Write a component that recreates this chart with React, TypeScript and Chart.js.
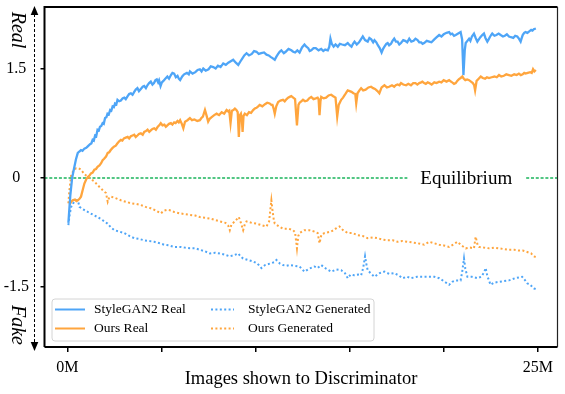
import { useEffect, useRef } from "react";
import { Chart, registerables } from "chart.js";

Chart.register(...registerables);

// ---- Data (x in millions of images, y = discriminator output) ----
const sgRealX = [0.05, 0.15, 0.25, 0.37, 0.45, 0.55, 0.63, 0.72, 0.8, 0.9, 1.0, 1.08, 1.2, 1.27, 1.34, 1.4, 1.47, 1.53, 1.6, 1.67, 1.73, 1.8, 1.87, 1.93, 2.0, 2.07, 2.13, 2.2, 2.27, 2.33, 2.4, 2.47, 2.53, 2.6, 2.66, 2.75, 2.84, 2.93, 3.02, 3.1, 3.2, 3.28, 3.37, 3.46, 3.55, 3.63, 3.72, 3.8, 3.9, 4.0, 4.08, 4.17, 4.25, 4.34, 4.43, 4.52, 4.6, 4.68, 4.75, 4.82, 4.87, 4.95, 5.02, 5.1, 5.2, 5.31, 5.4, 5.5, 5.58, 5.67, 5.76, 5.85, 5.92, 5.99, 6.1, 6.2, 6.35, 6.45, 6.51, 6.65, 6.8, 6.92, 7.04, 7.13, 7.22, 7.35, 7.5, 7.62, 7.75, 7.88, 8.0, 8.14, 8.28, 8.42, 8.55, 8.68, 8.81, 8.95, 9.08, 9.2, 9.3, 9.4, 9.52, 9.65, 9.8, 9.92, 10.05, 10.17, 10.3, 10.45, 10.58, 10.7, 10.8, 10.92, 11.02, 11.1, 11.2, 11.28, 11.37, 11.5, 11.6, 11.75, 11.9, 12.0, 12.1, 12.22, 12.34, 12.47, 12.6, 12.7, 12.8, 12.88, 12.96, 13.08, 13.2, 13.35, 13.49, 13.6, 13.7, 13.84, 13.92, 13.98, 14.05, 14.15, 14.25, 14.37, 14.48, 14.6, 14.75, 14.9, 15.0, 15.1, 15.18, 15.26, 15.38, 15.5, 15.6, 15.7, 15.82, 15.96, 16.05, 16.15, 16.25, 16.32, 16.42, 16.5, 16.6, 16.7, 16.78, 16.85, 16.95, 17.02, 17.1, 17.2, 17.28, 17.37, 17.46, 17.55, 17.64, 17.73, 17.85, 17.95, 18.06, 18.17, 18.28, 18.4, 18.5, 18.61, 18.7, 18.8, 18.88, 18.96, 19.1, 19.23, 19.35, 19.5, 19.63, 19.76, 19.88, 20.0, 20.15, 20.29, 20.37, 20.45, 20.55, 20.64, 20.77, 20.9, 20.98, 21.05, 21.12, 21.17, 21.26, 21.35, 21.42, 21.5, 21.61, 21.7, 21.79, 21.87, 21.95, 22.05, 22.14, 22.22, 22.32, 22.39, 22.45, 22.52, 22.58, 22.7, 22.8, 22.92, 23.03, 23.15, 23.25, 23.36, 23.47, 23.58, 23.7, 23.8, 23.91, 24.0, 24.09, 24.15, 24.2, 24.28, 24.35, 24.45, 24.55, 24.65, 24.72, 24.79, 24.9];
const sgRealY = [-0.62, -0.25, 0.0, 0.15, 0.25, 0.34, 0.36, 0.38, 0.37, 0.4, 0.41, 0.43, 0.46, 0.47, 0.52, 0.51, 0.58, 0.57, 0.66, 0.65, 0.7, 0.71, 0.75, 0.74, 0.82, 0.83, 0.88, 0.87, 0.93, 0.92, 0.98, 0.97, 1.02, 1.01, 1.07, 1.05, 1.06, 1.09, 1.1, 1.08, 1.12, 1.15, 1.16, 1.14, 1.18, 1.21, 1.23, 1.19, 1.22, 1.25, 1.26, 1.23, 1.27, 1.3, 1.32, 1.28, 1.3, 1.34, 1.35, 1.31, 1.34, 1.26, 1.31, 1.33, 1.36, 1.39, 1.36, 1.41, 1.44, 1.43, 1.38, 1.4, 1.36, 1.34, 1.39, 1.42, 1.44, 1.42, 1.46, 1.43, 1.45, 1.48, 1.49, 1.46, 1.5, 1.47, 1.49, 1.53, 1.52, 1.5, 1.54, 1.52, 1.57, 1.55, 1.58, 1.6, 1.62, 1.58, 1.55, 1.6, 1.64, 1.68, 1.71, 1.68, 1.7, 1.74, 1.73, 1.7, 1.71, 1.72, 1.69, 1.68, 1.66, 1.64, 1.62, 1.66, 1.7, 1.73, 1.75, 1.71, 1.73, 1.77, 1.75, 1.73, 1.72, 1.75, 1.72, 1.79, 1.83, 1.8, 1.78, 1.74, 1.75, 1.78, 1.78, 1.75, 1.77, 1.74, 1.76, 1.75, 1.8, 1.91, 1.84, 1.8, 1.83, 1.8, 1.84, 1.83, 1.82, 1.85, 1.82, 1.8, 1.84, 1.87, 1.83, 1.86, 1.9, 1.94, 1.89, 1.87, 1.92, 1.9, 1.86, 1.89, 1.86, 1.82, 1.78, 1.72, 1.77, 1.8, 1.84, 1.85, 1.82, 1.84, 1.88, 1.91, 1.87, 1.87, 1.83, 1.85, 1.89, 1.88, 1.86, 1.91, 1.87, 1.88, 1.91, 1.89, 1.86, 1.86, 1.84, 1.85, 1.88, 1.87, 1.86, 1.9, 1.93, 1.96, 1.94, 1.97, 1.99, 2.0, 1.97, 1.98, 1.95, 1.96, 1.98, 2.0, 1.9, 1.41, 1.75, 1.85, 1.88, 1.91, 1.88, 1.94, 1.98, 1.92, 1.87, 1.9, 1.93, 1.96, 1.98, 1.92, 1.87, 1.9, 1.93, 1.96, 1.98, 1.95, 1.96, 1.98, 1.96, 1.94, 1.95, 1.97, 1.94, 1.93, 1.92, 1.95, 1.94, 1.91, 1.87, 1.92, 1.96, 1.99, 2.0, 1.99, 2.01, 2.03, 2.02, 2.04, 2.05];

const oursRealX = [0.11, 0.2, 0.28, 0.4, 0.48, 0.55, 0.64, 0.72, 0.8, 0.9, 1.0, 1.08, 1.17, 1.25, 1.34, 1.43, 1.52, 1.6, 1.7, 1.79, 1.87, 1.95, 2.05, 2.14, 2.22, 2.3, 2.4, 2.49, 2.57, 2.65, 2.75, 2.84, 2.92, 3.0, 3.1, 3.2, 3.28, 3.37, 3.46, 3.55, 3.63, 3.72, 3.8, 3.9, 4.0, 4.08, 4.17, 4.26, 4.35, 4.43, 4.52, 4.61, 4.7, 4.8, 4.88, 4.96, 5.05, 5.15, 5.23, 5.31, 5.4, 5.5, 5.58, 5.67, 5.75, 5.85, 5.92, 5.99, 6.08, 6.16, 6.25, 6.38, 6.51, 6.62, 6.75, 6.9, 7.04, 7.12, 7.2, 7.31, 7.4, 7.48, 7.56, 7.65, 7.8, 7.93, 8.06, 8.2, 8.33, 8.46, 8.55, 8.6, 8.67, 8.74, 8.82, 8.9, 8.98, 9.05, 9.11, 9.17, 9.22, 9.27, 9.31, 9.36, 9.43, 9.54, 9.65, 9.76, 9.87, 9.96, 10.05, 10.14, 10.22, 10.36, 10.5, 10.62, 10.75, 10.84, 10.9, 10.96, 11.02, 11.1, 11.2, 11.32, 11.46, 11.55, 11.65, 11.73, 11.81, 11.9, 12.0, 12.1, 12.2, 12.28, 12.34, 12.43, 12.52, 12.63, 12.75, 12.85, 12.96, 13.08, 13.2, 13.3, 13.35, 13.4, 13.45, 13.49, 13.62, 13.75, 13.88, 14.02, 14.13, 14.25, 14.34, 14.42, 14.55, 14.65, 14.75, 14.82, 14.9, 15.0, 15.1, 15.2, 15.3, 15.35, 15.42, 15.52, 15.61, 15.72, 15.85, 16.0, 16.14, 16.25, 16.35, 16.48, 16.58, 16.7, 16.85, 16.98, 17.1, 17.25, 17.37, 17.45, 17.55, 17.65, 17.73, 17.85, 18.0, 18.12, 18.26, 18.38, 18.5, 18.6, 18.7, 18.8, 18.87, 18.96, 19.05, 19.15, 19.23, 19.36, 19.5, 19.62, 19.76, 19.88, 20.0, 20.15, 20.29, 20.38, 20.45, 20.55, 20.64, 20.72, 20.8, 20.9, 20.99, 21.07, 21.15, 21.25, 21.35, 21.45, 21.55, 21.62, 21.67, 21.75, 21.86, 21.97, 22.08, 22.2, 22.3, 22.41, 22.55, 22.7, 22.82, 22.94, 23.06, 23.2, 23.33, 23.47, 23.6, 23.75, 23.88, 24.0, 24.1, 24.2, 24.28, 24.35, 24.47, 24.6, 24.68, 24.75, 24.82, 24.9];
const oursRealY = [-0.37, -0.33, -0.31, -0.3, -0.32, -0.31, -0.29, -0.26, -0.18, -0.08, -0.02, 0.01, 0.03, 0.06, 0.07, 0.11, 0.12, 0.15, 0.17, 0.2, 0.24, 0.26, 0.29, 0.34, 0.35, 0.38, 0.41, 0.43, 0.44, 0.47, 0.5, 0.52, 0.51, 0.54, 0.55, 0.56, 0.54, 0.57, 0.58, 0.59, 0.56, 0.58, 0.6, 0.61, 0.59, 0.63, 0.64, 0.66, 0.63, 0.65, 0.67, 0.68, 0.66, 0.7, 0.72, 0.75, 0.72, 0.73, 0.7, 0.72, 0.74, 0.75, 0.73, 0.76, 0.75, 0.78, 0.76, 0.79, 0.74, 0.68, 0.77, 0.79, 0.82, 0.79, 0.8, 0.78, 0.79, 0.82, 0.84, 0.93, 0.85, 0.77, 0.81, 0.83, 0.86, 0.88, 0.86, 0.9, 0.88, 0.93, 0.91, 0.92, 0.75, 0.92, 0.93, 0.95, 0.93, 0.9, 0.56, 0.86, 0.88, 0.8, 0.63, 0.85, 0.88, 0.86, 0.9, 0.89, 0.93, 0.95, 0.96, 0.98, 1.0, 0.98, 1.01, 1.03, 1.02, 1.0, 1.0, 0.95, 0.88, 0.98, 1.04, 1.06, 1.07, 1.05, 1.08, 1.1, 1.11, 1.12, 1.1, 1.08, 0.72, 1.0, 1.03, 1.05, 1.07, 1.05, 1.06, 1.09, 1.11, 1.08, 1.09, 1.1, 1.08, 0.86, 1.05, 1.11, 1.09, 1.1, 1.13, 1.14, 1.12, 1.1, 0.84, 1.0, 1.07, 1.1, 1.14, 1.17, 1.2, 1.19, 1.18, 1.16, 1.15, 1.02, 1.16, 1.2, 1.23, 1.2, 1.21, 1.24, 1.25, 1.23, 1.22, 1.19, 1.16, 1.24, 1.27, 1.24, 1.25, 1.27, 1.25, 1.27, 1.28, 1.27, 1.3, 1.28, 1.27, 1.29, 1.27, 1.3, 1.3, 1.28, 1.3, 1.31, 1.32, 1.3, 1.29, 1.31, 1.3, 1.28, 1.31, 1.3, 1.32, 1.31, 1.34, 1.32, 1.34, 1.32, 1.31, 1.29, 1.3, 1.33, 1.35, 1.37, 1.39, 1.36, 1.34, 1.35, 1.34, 1.32, 1.3, 1.27, 1.2, 1.33, 1.36, 1.39, 1.37, 1.36, 1.38, 1.37, 1.38, 1.39, 1.38, 1.41, 1.39, 1.4, 1.42, 1.41, 1.4, 1.42, 1.41, 1.43, 1.41, 1.42, 1.44, 1.43, 1.44, 1.45, 1.44, 1.49, 1.46, 1.48];

const sgGenX = [0.05, 0.12, 0.2, 0.3, 0.37, 0.45, 0.55, 0.64, 0.8, 0.95, 1.08, 1.3, 1.6, 1.85, 2.13, 2.3, 2.49, 2.75, 3.02, 3.3, 3.55, 3.8, 4.08, 4.35, 4.61, 4.9, 5.14, 5.4, 5.67, 5.99, 6.25, 6.51, 6.8, 7.04, 7.3, 7.57, 7.85, 8.1, 8.4, 8.63, 8.9, 9.08, 9.2, 9.34, 9.6, 9.87, 10.1, 10.31, 10.5, 10.75, 11.0, 11.11, 11.3, 11.46, 11.65, 11.81, 12.08, 12.34, 12.6, 12.85, 13.13, 13.3, 13.49, 13.75, 14.02, 14.3, 14.55, 14.75, 14.9, 15.05, 15.26, 15.45, 15.61, 15.72, 15.82, 15.9, 15.96, 16.15, 16.32, 16.6, 16.85, 17.1, 17.37, 17.6, 17.82, 18.05, 18.26, 18.6, 18.87, 19.23, 19.5, 19.76, 20.0, 20.29, 20.45, 20.64, 20.9, 20.98, 21.08, 21.15, 21.26, 21.5, 21.79, 22.0, 22.15, 22.23, 22.32, 22.49, 22.7, 22.94, 23.2, 23.47, 23.8, 24.17, 24.3, 24.44, 24.6, 24.79, 24.9];
const sgGenY = [-0.65, -0.5, -0.4, -0.35, -0.33, -0.31, -0.31, -0.4, -0.43, -0.45, -0.47, -0.5, -0.54, -0.58, -0.63, -0.68, -0.72, -0.74, -0.76, -0.8, -0.83, -0.84, -0.86, -0.87, -0.88, -0.9, -0.92, -0.93, -0.95, -0.95, -0.96, -0.97, -0.97, -0.99, -1.01, -1.04, -1.03, -1.04, -1.06, -1.08, -1.06, -1.04, -1.08, -1.11, -1.13, -1.15, -1.18, -1.24, -1.2, -1.18, -1.16, -1.13, -1.18, -1.2, -1.21, -1.2, -1.21, -1.22, -1.29, -1.25, -1.22, -1.24, -1.2, -1.25, -1.29, -1.26, -1.27, -1.31, -1.38, -1.33, -1.34, -1.33, -1.34, -1.24, -1.08, -1.2, -1.27, -1.32, -1.36, -1.31, -1.29, -1.32, -1.31, -1.34, -1.38, -1.36, -1.38, -1.36, -1.36, -1.36, -1.36, -1.38, -1.42, -1.47, -1.43, -1.41, -1.41, -1.3, -1.11, -1.25, -1.36, -1.36, -1.38, -1.36, -1.3, -1.24, -1.35, -1.47, -1.44, -1.43, -1.42, -1.41, -1.38, -1.36, -1.4, -1.45, -1.47, -1.52, -1.53];

const oursGenX = [0.05, 0.1, 0.2, 0.33, 0.46, 0.6, 0.72, 0.9, 1.08, 1.25, 1.43, 1.6, 1.79, 1.95, 2.05, 2.14, 2.22, 2.31, 2.55, 2.84, 3.1, 3.37, 3.65, 3.9, 4.15, 4.43, 4.7, 4.96, 5.15, 5.31, 5.5, 5.67, 5.99, 6.25, 6.51, 6.8, 7.04, 7.3, 7.57, 7.85, 8.1, 8.4, 8.55, 8.63, 8.72, 8.9, 9.11, 9.22, 9.34, 9.43, 9.52, 9.8, 10.05, 10.3, 10.58, 10.72, 10.8, 10.84, 10.9, 10.97, 11.02, 11.25, 11.46, 11.75, 11.99, 12.1, 12.2, 12.27, 12.34, 12.6, 12.85, 13.13, 13.3, 13.4, 13.5, 13.67, 14.02, 14.25, 14.46, 14.65, 14.9, 15.15, 15.43, 15.7, 15.96, 16.25, 16.49, 16.75, 17.02, 17.3, 17.55, 17.8, 18.08, 18.35, 18.61, 18.96, 19.23, 19.5, 19.76, 20.0, 20.29, 20.5, 20.73, 20.95, 21.17, 21.4, 21.61, 21.7, 21.8, 21.88, 22.15, 22.41, 22.7, 22.94, 23.2, 23.47, 23.75, 24.0, 24.2, 24.44, 24.65, 24.79, 24.9];
const oursGenY = [-0.35, -0.18, 0.04, 0.1, 0.13, 0.13, 0.11, 0.05, 0.01, -0.02, -0.05, -0.1, -0.15, -0.19, -0.21, -0.33, -0.27, -0.26, -0.28, -0.31, -0.33, -0.35, -0.36, -0.375, -0.4, -0.42, -0.45, -0.49, -0.45, -0.44, -0.45, -0.47, -0.49, -0.5, -0.51, -0.52, -0.54, -0.55, -0.56, -0.58, -0.6, -0.62, -0.66, -0.72, -0.64, -0.6, -0.54, -0.62, -0.72, -0.64, -0.6, -0.62, -0.63, -0.65, -0.67, -0.6, -0.4, -0.31, -0.45, -0.58, -0.63, -0.67, -0.7, -0.7, -0.72, -0.75, -0.97, -0.8, -0.76, -0.72, -0.72, -0.74, -0.76, -0.9, -0.78, -0.76, -0.74, -0.7, -0.67, -0.72, -0.76, -0.76, -0.79, -0.8, -0.83, -0.82, -0.83, -0.85, -0.86, -0.86, -0.88, -0.87, -0.88, -0.89, -0.9, -0.92, -0.88, -0.9, -0.92, -0.93, -0.95, -0.92, -0.88, -0.93, -0.97, -0.96, -0.97, -0.81, -0.92, -0.95, -0.96, -0.97, -0.96, -0.97, -0.98, -0.99, -0.99, -1.0, -1.0, -1.02, -1.04, -1.08, -1.09];

const seriesLabels = ["StyleGAN2 Real", "Ours Real", "StyleGAN2 Generated", "Ours Generated"];
const xTickValues = [0, 5, 10, 15, 20, 25];
const xTickLabels = ["0M", "", "", "", "", "25M"];
const yTickValues = [-1.5, 0, 1.5];
const yTickLabels = ["-1.5", "0", "1.5"];
const xTitle = "Images shown to Discriminator";
const equilibriumLabel = "Equilibrium";
const equilibriumX = 21.2;
const topLabel = "Real";
const bottomLabel = "Fake";

const BLUE = "#4ea5f7";
const ORANGE = "#ffa53d";
const GREEN = "#52c683";
const SERIF = "'Liberation Serif', 'Times New Roman', serif";

function pts(xs: number[], ys: number[]) {
  return xs.map((x, i) => ({ x, y: ys[i] }));
}

const decorPlugin = {
  id: "decor",
  beforeDatasetsDraw(chart: any) {
    const { ctx, chartArea, scales } = chart;
    const y0 = Math.round(scales.y.getPixelForValue(0));
    ctx.save();
    ctx.font = `19px ${SERIF}`;
    const tw = ctx.measureText(equilibriumLabel).width;
    const cx = scales.x.getPixelForValue(equilibriumX);
    const gapL = cx - tw / 2 - 13;
    const gapR = cx + tw / 2 + 14;
    ctx.strokeStyle = GREEN;
    ctx.lineWidth = 2;
    ctx.setLineDash([3, 1.8]);
    ctx.beginPath();
    ctx.moveTo(chartArea.left, y0);
    ctx.lineTo(gapL, y0);
    ctx.moveTo(gapR, y0);
    ctx.lineTo(chartArea.right, y0);
    ctx.stroke();
    ctx.restore();
  },
  afterDraw(chart: any) {
    const { ctx, chartArea, scales } = chart;
    const { left, right, top, bottom } = chartArea;
    ctx.save();
    // Equilibrium text
    const y0 = scales.y.getPixelForValue(0);
    ctx.font = `19px ${SERIF}`;
    ctx.fillStyle = "#000";
    ctx.textAlign = "center";
    ctx.textBaseline = "middle";
    ctx.fillText(equilibriumLabel, scales.x.getPixelForValue(equilibriumX), y0 + 1);

    // Spines
    ctx.strokeStyle = "#000";
    ctx.setLineDash([]);
    ctx.lineWidth = 2;
    ctx.beginPath();
    ctx.moveTo(left, bottom);
    ctx.lineTo(left, top);
    ctx.lineTo(right, top);
    ctx.moveTo(left, bottom);
    ctx.lineTo(right, bottom);
    ctx.stroke();
    ctx.lineWidth = 1.2;
    ctx.strokeStyle = "#222";
    ctx.beginPath();
    ctx.moveTo(right, top);
    ctx.lineTo(right, bottom);
    ctx.stroke();

    // Dashed double arrow
    const ax = 34.5;
    ctx.strokeStyle = "#000";
    ctx.lineWidth = 1;
    ctx.setLineDash([3, 2]);
    ctx.beginPath();
    ctx.moveTo(ax, 14);
    ctx.lineTo(ax, 343);
    ctx.stroke();
    ctx.setLineDash([]);
    ctx.fillStyle = "#000";
    ctx.beginPath();
    ctx.moveTo(ax, 6);
    ctx.lineTo(ax - 3.8, 15);
    ctx.lineTo(ax + 3.8, 15);
    ctx.closePath();
    ctx.fill();
    ctx.beginPath();
    ctx.moveTo(ax, 351);
    ctx.lineTo(ax - 3.8, 342);
    ctx.lineTo(ax + 3.8, 342);
    ctx.closePath();
    ctx.fill();

    // Real / Fake labels
    ctx.font = `italic 20px ${SERIF}`;
    ctx.textAlign = "center";
    ctx.textBaseline = "middle";
    ctx.save();
    ctx.translate(17.5, 30);
    ctx.rotate(Math.PI / 2);
    ctx.fillText(topLabel, 0, 0);
    ctx.restore();
    ctx.save();
    ctx.translate(17.5, 325);
    ctx.rotate(Math.PI / 2);
    ctx.fillText(bottomLabel, 0, 0);
    ctx.restore();

    // Legend
    const bx = 52, by = 299, bw = 322, bh = 42;
    ctx.beginPath();
    ctx.roundRect(bx, by, bw, bh, 3);
    ctx.fillStyle = "rgba(255,255,255,0.85)";
    ctx.fill();
    ctx.strokeStyle = "#d4d4d4";
    ctx.lineWidth = 1;
    ctx.stroke();
    const ds = chart.data.datasets;
    const cols = [
      { lx: 55, tx: 94 },
      { lx: 207, tx: 248 },
    ];
    const rows = [309.5, 328.5];
    ctx.font = `13.5px ${SERIF}`;
    ctx.textAlign = "left";
    ctx.textBaseline = "middle";
    ds.forEach((d: any, i: number) => {
      const c = cols[Math.floor(i / 2)];
      const ry = rows[i % 2];
      ctx.strokeStyle = d.borderColor;
      ctx.lineWidth = 2;
      if (i >= 2) {
        ctx.setLineDash([2, 2.4]);
        ctx.beginPath();
        ctx.moveTo(c.lx + 4, ry);
        ctx.lineTo(c.lx + 27, ry);
        ctx.stroke();
      } else {
        ctx.setLineDash([]);
        ctx.beginPath();
        ctx.moveTo(c.lx, ry);
        ctx.lineTo(c.lx + 30, ry);
        ctx.stroke();
      }
      ctx.setLineDash([]);
      ctx.fillStyle = "#000";
      ctx.fillText(d.label, c.tx, ry);
    });
    ctx.restore();
  },
};

export default function App() {
  const ref = useRef<HTMLCanvasElement | null>(null);
  useEffect(() => {
    document.body.style.margin = "0";
    if (!ref.current) return;
    const chart = new Chart(ref.current, {
      type: "line",
      data: {
        datasets: [
          { label: seriesLabels[0], data: pts(sgRealX, sgRealY), borderColor: BLUE, borderWidth: 2.3 },
          { label: seriesLabels[1], data: pts(oursRealX, oursRealY), borderColor: ORANGE, borderWidth: 2.3 },
          { label: seriesLabels[2], data: pts(sgGenX, sgGenY), borderColor: BLUE, borderWidth: 2, borderDash: [2, 2.4] },
          { label: seriesLabels[3], data: pts(oursGenX, oursGenY), borderColor: ORANGE, borderWidth: 2, borderDash: [2, 2.4] },
        ] as any,
      },
      options: {
        animation: false,
        responsive: false,
        devicePixelRatio: 1,
        layout: { padding: { top: 7, right: 7.5, left: 0, bottom: 0 } },
        elements: { point: { radius: 0 }, line: { tension: 0, fill: false } },
        plugins: { legend: { display: false }, tooltip: { enabled: false } },
        scales: {
          x: {
            type: "linear",
            min: -1.22,
            max: 26.05,
            afterBuildTicks: (s: any) => {
              s.ticks = xTickValues.map((v) => ({ value: v }));
            },
            afterFit: (s: any) => {
              s.height = 47;
              s.paddingLeft = 0;
              s.paddingRight = 0;
            },
            ticks: {
              autoSkip: false,
              maxRotation: 0,
              color: "#000",
              font: { family: SERIF, size: 16 },
              padding: 6,
              callback: (v: any) => {
                const i = xTickValues.indexOf(Number(v));
                return i >= 0 ? xTickLabels[i] : "";
              },
            },
            grid: { display: true, drawOnChartArea: false, drawTicks: true, tickLength: 5, color: "#000", lineWidth: 1.5 },
            border: { display: false },
            title: {
              display: true,
              text: xTitle,
              color: "#000",
              font: { family: SERIF, size: 18.5 },
              padding: { top: 0, bottom: 4 },
            },
          },
          y: {
            type: "linear",
            min: -2.325,
            max: 2.345,
            afterBuildTicks: (s: any) => {
              s.ticks = yTickValues.map((v) => ({ value: v }));
            },
            afterFit: (s: any) => {
              s.width = 44.5;
              s.paddingTop = 0;
              s.paddingBottom = 0;
            },
            ticks: {
              crossAlign: "center",
              padding: 11.5,
              color: "#000",
              font: { family: SERIF, size: 16 },
              callback: (v: any) => {
                const i = yTickValues.indexOf(Number(v));
                return i >= 0 ? yTickLabels[i] : "";
              },
            },
            grid: { display: true, drawOnChartArea: false, drawTicks: true, tickLength: 4, color: "#000", lineWidth: 1.5 },
            border: { display: false },
          },
        },
      } as any,
      plugins: [decorPlugin],
    });
    return () => chart.destroy();
  }, []);
  return (
    <div style={{ width: 565, height: 394 }}>
      <canvas ref={ref} width={565} height={394} style={{ display: "block", width: 565, height: 394 }} />
    </div>
  );
}
